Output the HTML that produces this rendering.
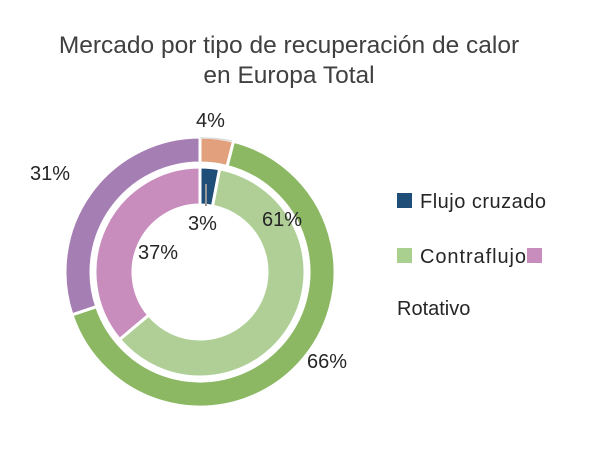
<!DOCTYPE html>
<html><head><meta charset="utf-8"><style>
body{margin:0;background:#fff;}
svg{display:block;font-family:"Liberation Sans","DejaVu Sans",sans-serif;}
</style></head><body>
<svg id="s" width="600" height="449" viewBox="0 0 600 449">
<text x="289" y="53" font-size="24.5" fill="#404040" text-anchor="middle">Mercado por tipo de recuperación de calor</text>
<text x="289" y="83" font-size="24.5" fill="#404040" text-anchor="middle">en Europa Total</text>
<g id="rings"></g>
<path d="M200 138 A134 134 0 0 1 232 141" fill="none" stroke="#ddd" stroke-width="1.5"/>
<line x1="206" y1="184" x2="206" y2="206" stroke="#999" stroke-width="2"/>
<g font-size="20" fill="#262626">
<text x="196" y="127">4%</text>
<text x="30" y="180">31%</text>
<text x="188" y="230">3%</text>
<text x="262" y="226">61%</text>
<text x="138" y="259">37%</text>
<text x="307" y="368">66%</text>
</g>
<rect x="397" y="193" width="15" height="15" fill="#1f4e79"/>
<text x="420" y="208" font-size="20" fill="#262626" textLength="126">Flujo cruzado</text>
<rect x="397" y="248" width="15" height="15" fill="#a9d08e"/>
<text x="420" y="263" font-size="20" fill="#262626" textLength="106">Contraflujo</text>
<rect x="527" y="248" width="15" height="15" fill="#c88dbd"/>
<text x="397" y="315" font-size="20" fill="#262626">Rotativo</text>
</svg>
<script>
var cx=200,cy=272,g=document.getElementById('rings');
function arc(r0,r1,a0,a1,col){
 function p(r,a){a=a*Math.PI/180;return [cx+r*Math.sin(a),cy-r*Math.cos(a)];}
 var L=(a1-a0)>180?1:0,A=p(r1,a0),B=p(r1,a1),C=p(r0,a1),D=p(r0,a0);
 var d='M'+A+' A'+r1+' '+r1+' 0 '+L+' 1 '+B+' L'+C+' A'+r0+' '+r0+' 0 '+L+' 0 '+D+' Z';
 var e=document.createElementNS('http://www.w3.org/2000/svg','path');
 e.setAttribute('d',d);e.setAttribute('fill',col);e.setAttribute('stroke','#fff');e.setAttribute('stroke-width','3');g.appendChild(e);
}
arc(109,135,0,14.4,'#e3a07d');
arc(109,135,14.4,251.5,'#8cb863');
arc(109,135,251.5,360,'#a57eb4');
arc(67,105,0,10.8,'#1f4e79');
arc(67,105,10.8,230,'#b0cf96');
arc(67,105,230,360,'#c88dbd');
</script>
</body></html>
